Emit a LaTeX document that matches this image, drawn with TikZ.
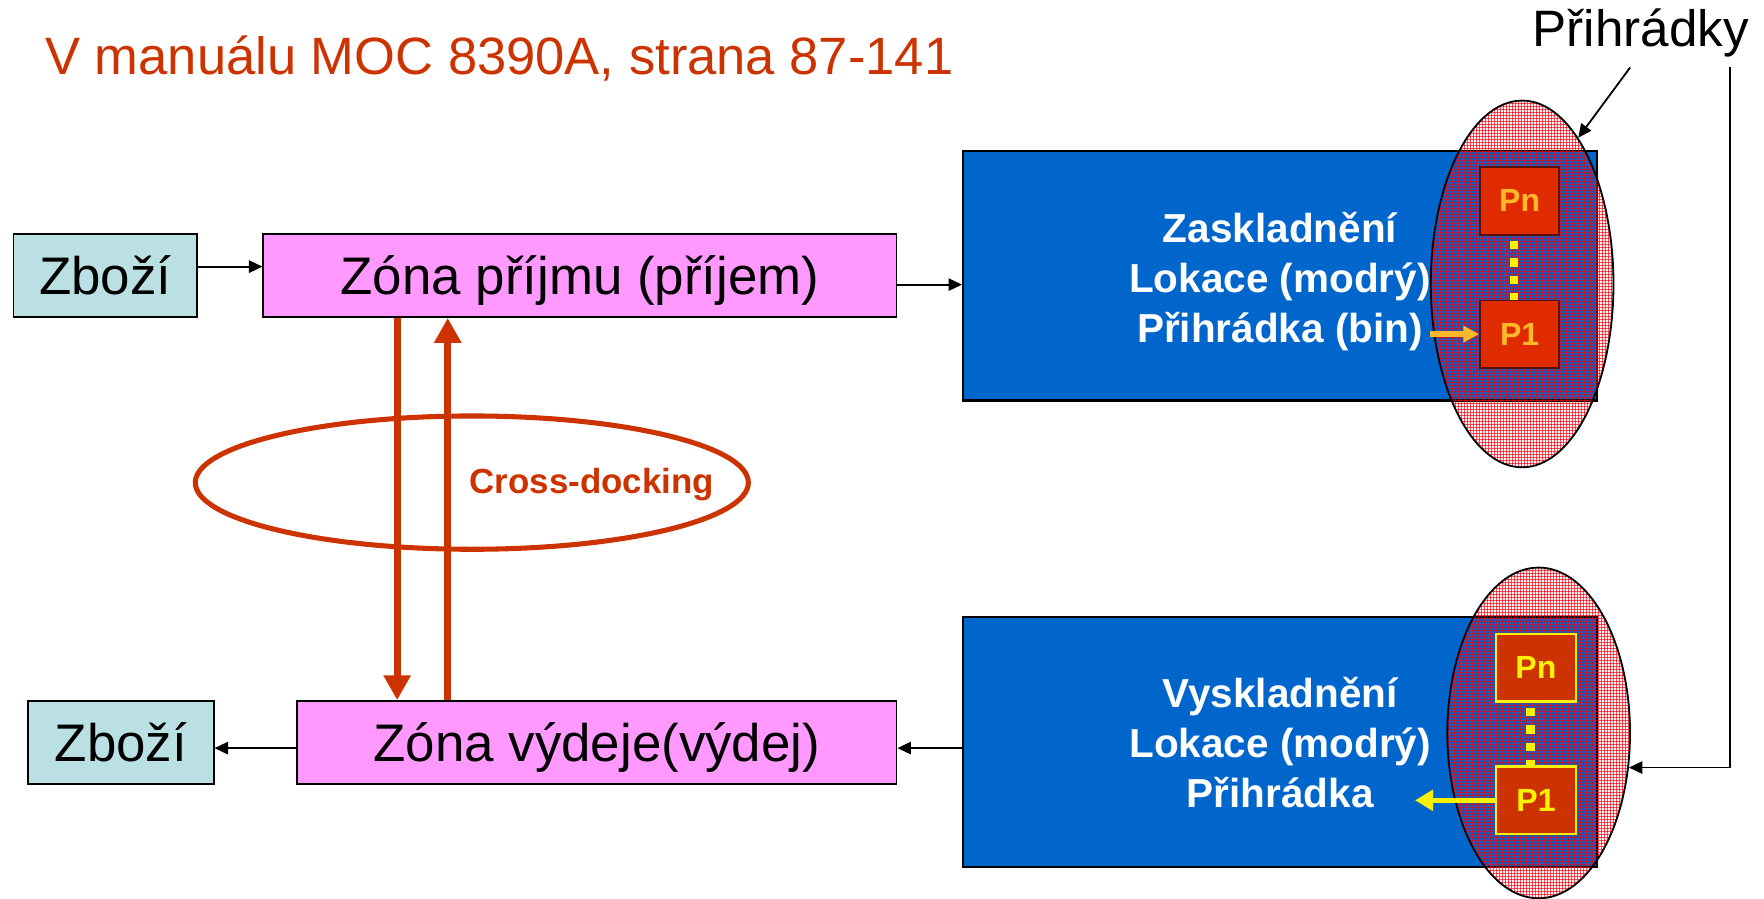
\documentclass[tikz,border=0pt]{standalone}
\usepackage{fontspec}
\setmainfont{Liberation Sans}
\usetikzlibrary{arrows.meta,shapes.geometric,patterns}
\definecolor{tred}{HTML}{CC3300}
\definecolor{zcyan}{HTML}{BAE0E3}
\definecolor{zpink}{HTML}{FF99FF}
\definecolor{zblue}{HTML}{0066CC}
\definecolor{binred}{HTML}{E02A00}
\definecolor{binedge}{HTML}{5A1000}
\definecolor{binorange}{HTML}{FFB828}
\definecolor{gridred}{HTML}{EE0010}
\pgfdeclarepatternformonly{fgrid}{\pgfqpoint{0pt}{0pt}}{\pgfqpoint{3pt}{3pt}}{\pgfqpoint{3pt}{3pt}}{%
 \pgfsetlinewidth{0.55pt}%
 \pgfpathmoveto{\pgfqpoint{0pt}{1.5pt}}\pgfpathlineto{\pgfqpoint{3pt}{1.5pt}}%
 \pgfpathmoveto{\pgfqpoint{1.5pt}{0pt}}\pgfpathlineto{\pgfqpoint{1.5pt}{3pt}}%
 \pgfusepath{stroke}}
\begin{document}
\begin{tikzpicture}[x=1pt,y=-1pt,
  textbox/.style={draw=black, line width=1.4pt, inner sep=0pt, minimum height=74pt,
    font=\fontsize{47}{56}\selectfont, text height=33.6pt, text depth=0pt},
  goods/.style={textbox, fill=zcyan},
  zone/.style={textbox, fill=zpink},
  store/.style={draw=black, line width=1.8pt, fill=zblue, minimum width=563.5pt,
    minimum height=222pt, inner sep=0pt, text=white, align=center,
    font=\bfseries\fontsize{36}{44.5}\selectfont},
  conn/.style={-{Triangle[length=12pt,width=11pt]}, line width=1.6pt, draw=black},
  bigarrow/.style={-{Triangle[length=22pt,width=23pt]}, line width=6pt, draw=tred},
  binA/.style={draw=binedge, line width=1.5pt, fill=binred, minimum width=70.5pt,
    minimum height=60pt, inner sep=0pt, text=binorange,
    font=\bfseries\fontsize{28.5}{30}\selectfont},
  binB/.style={draw=yellow, line width=2pt, fill=tred, minimum width=71pt,
    minimum height=60pt, inner sep=0pt, text=yellow,
    font=\bfseries\fontsize{28.5}{30}\selectfont},
  slot/.style={ellipse, inner sep=0pt, draw=black, line width=1.6pt,
    preaction={fill=red, fill opacity=0.06}, pattern=fgrid, pattern color=gridred},
  bindots/.style={draw=yellow, line width=7.4pt, dash pattern=on 7.4pt off 8.2pt, dash phase=11pt}
]
\useasboundingbox (0,0) rectangle (1568,799);

% titles
\node[anchor=base west, inner sep=0pt, text=tred, font=\fontsize{46.7}{52}\selectfont] (title) at (40,66) {V manuálu MOC 8390A, strana 87-141};
\node[anchor=base west, inner sep=0pt, font=\fontsize{45.5}{50}\selectfont] (prih) at (1362,41) {Přihrádky};

% boxes
\node[goods, minimum width=163pt] (zb1) at (93.5,245) {Zboží};
\node[zone, minimum width=563pt] (zp) at (515.5,245) {Zóna příjmu (příjem)};
\node[store] (blue1) at (1137.75,245) {\rule{0pt}{38pt}Zaskladnění\\Lokace (modrý)\\Přihrádka (bin)};
\node[goods, minimum width=165pt] (zb2) at (107.5,660) {Zboží};
\node[zone, minimum width=533pt] (zv) at (530.5,660) {Zóna výdeje(výdej)};
\node[store] (blue2) at (1137.9,659.8) {Vyskladnění\\Lokace (modrý)\\Přihrádka};

% cross-docking
\node[ellipse, draw=tred, line width=4.5pt, inner sep=0pt, minimum width=491.6pt, minimum height=118.5pt] (cd) at (419.4,429) {};
\node[text=tred, font=\bfseries\fontsize{31}{34}\selectfont, inner sep=0pt] (cdt) at (526,431) {Cross-docking};
\coordinate (xd) at (353,0);
\coordinate (xu) at (398,0);
\draw[bigarrow] (zp.south -| xd) -- (zv.north -| xd);
\draw[bigarrow] (zv.north -| xu) -- (zp.south -| xu);

% top bin area
\node[slot, minimum width=162.4pt, minimum height=326pt] (e1) at (1353,252.4) {};
\node[binA] (pn1) at (1350.8,178.6) {Pn};
\node[binA] (p11) at (1350.8,297) {P1};
\draw[bindots] ([xshift=-5pt]pn1.south) -- ([xshift=-5pt]p11.north);
\coordinate (oa) at (1271,297);
\draw[-{Triangle[length=14pt,width=14pt]}, line width=5pt, draw=binorange] (oa) -- (p11.west);

% bottom bin area
\node[slot, minimum width=162.4pt, minimum height=294pt] (e2) at (1367.7,651.5) {};
\node[binB] (pn2) at (1365.3,593.5) {Pn};
\node[binB] (p12) at (1365.3,711.4) {P1};
\draw[bindots] ([xshift=-5pt]pn2.south) -- ([xshift=-5pt]p12.north);
\coordinate (ya) at (1257.8,711.4);
\draw[-{Triangle[length=16pt,width=18pt]}, line width=5pt, draw=yellow] (p12.west) -- (ya);

% connectors
\draw[conn] ([yshift=8pt]zb1.east) -- ([yshift=8pt]zp.west);
\draw[conn] ([yshift=-8pt]zp.east) -- ([yshift=-8pt]blue1.west);
\draw[conn] ([yshift=-5pt]blue2.west) -- ([yshift=-5pt]zv.east);
\draw[conn] ([yshift=-5pt]zv.west) -- ([yshift=-5pt]zb2.east);
\coordinate (c0) at (1449,60);
\draw[conn] (c0) -- (e1.69);
\coordinate (c1) at (1537.8,60);
\draw[conn] (c1) |- (e2.-21);
\end{tikzpicture}
\end{document}
